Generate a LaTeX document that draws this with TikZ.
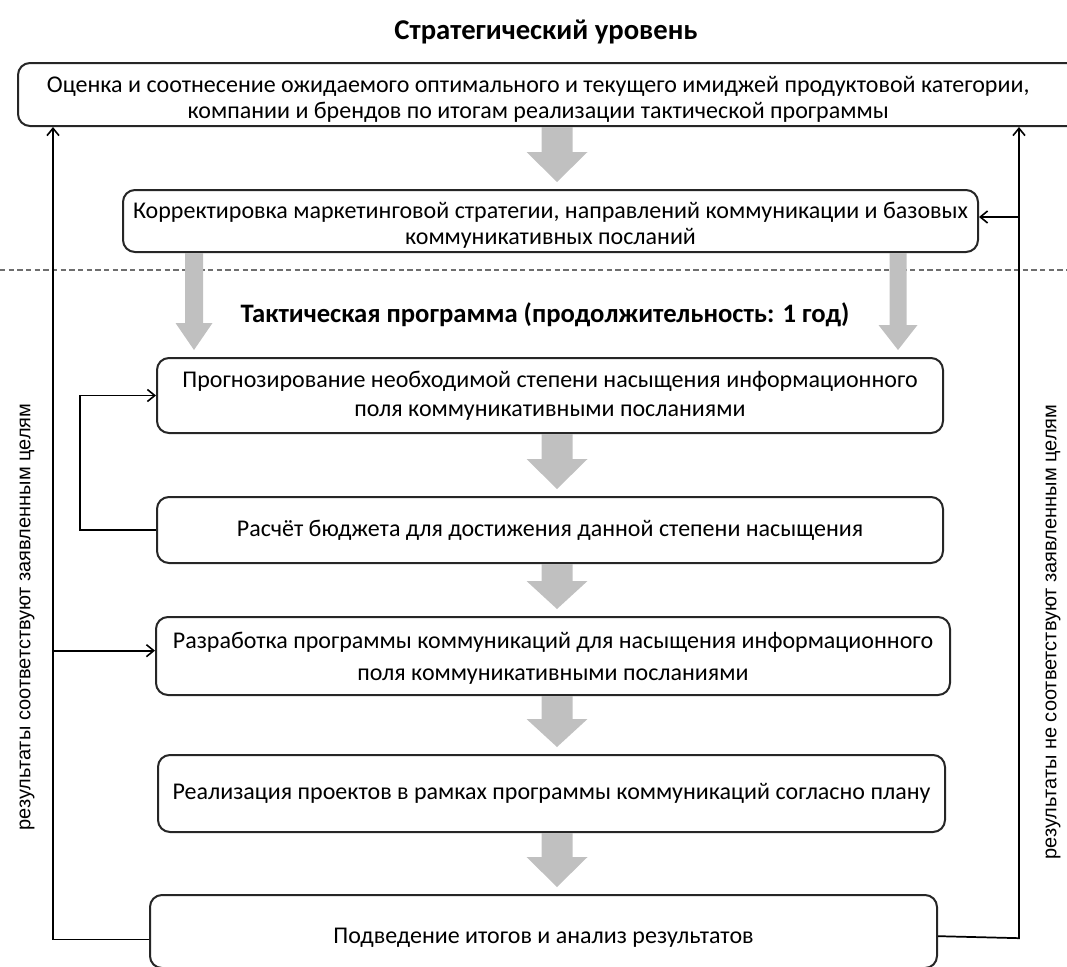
\documentclass[tikz,border=0pt]{standalone}
\usepackage{fontspec}
\setmainfont{Carlito}
\newfontfamily\sidefont{Liberation Sans}
\usetikzlibrary{calc,arrows.meta}
\definecolor{arrowgray}{RGB}{192,192,192}
\definecolor{sepgray}{RGB}{110,110,110}
\tikzset{
  box/.style={draw=black!85, line width=1.5pt, rounded corners=9pt, fill=white,
    align=center, inner sep=0pt, font=\fontsize{18}{19.5}\selectfont},
  wide/.style={font=\fontsize{18}{21.5}\selectfont},
  conn/.style={draw=black, line width=1.3pt},
  tip/.style={-{Straight Barb[length=5.5pt,width=9pt,line width=1.2pt]}},
  heading/.style={font=\bfseries\fontsize{20}{24}\selectfont},
  sidelabel/.style={rotate=90, font=\sidefont\fontsize{15}{18}\selectfont},
}
% rounded box given by its left, top, right and bottom edges (px, y downwards)
\newcommand\boxnode[7][]{%
  \node[box, #1, minimum width={(#5-#3)*0.75pt}, minimum height={(#6-#4)*0.75pt}]
    (#2) at ({(#3+#5)/2},{(#4+#6)/2}) {#7};}
% text lowered inside its box without changing the box
\newcommand\lowered[2]{\raisebox{-#1}[\height][\depth]{#2}}
% wide grey arrow from the bottom of #1 to just above #2, along column #3
% #4 shaft half-width, #5 head half-width, #6 head length
\newcommand\blockarrow[6]{%
  \fill[arrowgray]
    ($(#1.south -| #3)+(-#4,0)$) --
    ($(#2.north -| #3)+(-#4,-7-#6)$) --
    ($(#2.north -| #3)+(-#5,-7-#6)$) --
    ($(#2.north -| #3)+(0,-7)$) --
    ($(#2.north -| #3)+(#5,-7-#6)$) --
    ($(#2.north -| #3)+(#4,-7-#6)$) --
    ($(#1.south -| #3)+(#4,0)$) -- cycle;}
\begin{document}
\begin{tikzpicture}[x=0.75pt,y=-0.75pt]
\useasboundingbox (0,0) rectangle (1067,967);

% columns used by the grey arrows and the feedback lines
\coordinate (colM) at (557,0);
\coordinate (colL) at (194,0);
\coordinate (colR) at (898,0);
\coordinate (lineL) at (53,0);
\coordinate (lineR) at (1019,0);
\coordinate (loopX) at (80,0);

\node[heading, font=\bfseries\fontsize{21.5}{24}\selectfont] (strat) at (546,32) {Стратегический уровень};

% the top box runs past the right border of the page
\boxnode{top}{18}{63}{1085}{126}{\lowered{4pt}{\begin{tabular}{@{}c@{}}Оценка и соотнесение ожидаемого оптимального и текущего имиджей продуктовой категории,\\компании и брендов по итогам реализации тактической программы\end{tabular}}\hspace*{20pt}}
\boxnode{b2}{123}{190}{978}{252}{\lowered{4pt}{\begin{tabular}{@{}c@{}}Корректировка маркетинговой стратегии, направлений коммуникации и базовых\\коммуникативных посланий\end{tabular}}}

% border between the strategic and the tactical level
\draw[sepgray, line width=0.8pt, dash pattern=on 4pt off 2.5pt] (0,270) -- (1067,270);

\node[heading] (tact) at (545,315) {Тактическая программа (продолжительность: 1 год)};

\boxnode[wide]{b3}{157}{358}{943}{433}{Прогнозирование необходимой степени насыщения информационного\\поля коммуникативными посланиями}
\boxnode{b4}{157}{497}{943}{563}{Расчёт бюджета для достижения данной степени насыщения}
\boxnode[wide]{b5}{156}{617}{950}{695}{\lowered{2pt}{\begin{tabular}{@{}c@{}}Разработка программы коммуникаций для насыщения информационного\\[3pt]поля коммуникативными посланиями\end{tabular}}}
\boxnode{b6}{158}{755}{945}{832}{Реализация проектов в рамках программы коммуникаций согласно плану}
\boxnode{b7}{150}{895}{937}{968}{\lowered{5pt}{Подведение итогов и анализ результатов}}

% grey flow arrows
\blockarrow{top}{b2}{colM}{15.5}{30.5}{30}
\blockarrow{b2}{b3}{colL}{9}{18.5}{27}
\blockarrow{b2}{b3}{colR}{8.5}{19.5}{25}
\blockarrow{b3}{b4}{colM}{15.5}{30.5}{30}
\blockarrow{b4}{b5}{colM}{15.5}{30.5}{28}
\blockarrow{b5}{b6}{colM}{15.5}{30.5}{28}
\blockarrow{b6}{b7}{colM}{15.5}{30.5}{30}

% budget loop back to forecasting
\draw[conn, tip] (b4.west) -- (b4.west -| loopX) |- (b3.west);

% left feedback: results meet the goals
\draw[conn, tip] ([yshift=-6pt]b7.west) -| (top.south -| lineL);
\draw[conn, tip] ([yshift=4pt]b5.west -| lineL) -- ([yshift=4pt]b5.west);

% right feedback: results do not meet the goals
\draw[conn, tip] ([yshift=-3.5pt]b7.east) -- ([yshift=-5pt]b7.east -| lineR) -- (top.south -| lineR);
\draw[conn, tip] ([yshift=3pt]b2.east -| lineR) -- ([yshift=3pt]b2.east);

\node[sidelabel] (leftlab) at (27,617) {результаты соответствуют заявленным целям};
\node[sidelabel] (rightlab) at (1053,632) {результаты не соответствуют заявленным целям};
\end{tikzpicture}
\end{document}
